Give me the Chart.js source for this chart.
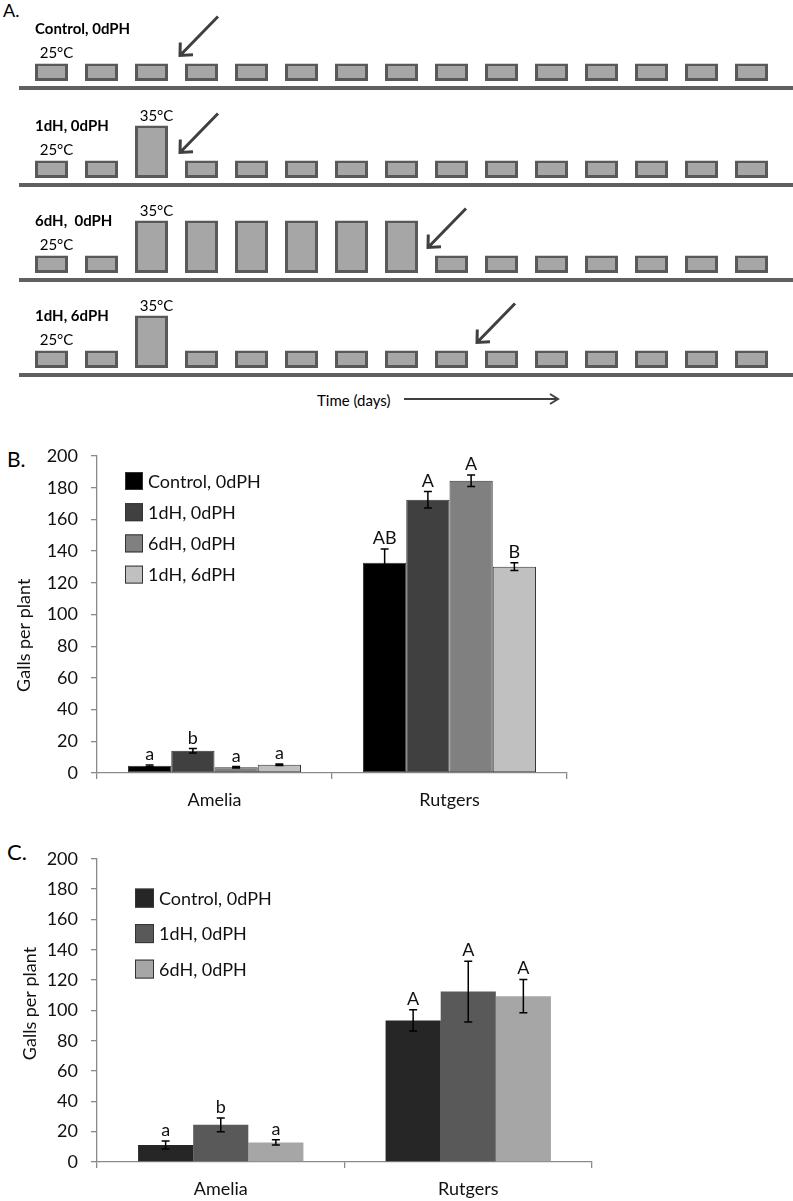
<!DOCTYPE html>
<html>
<head>
<meta charset="utf-8">
<script src="https://cdn.jsdelivr.net/npm/chart.js@4.4.0/dist/chart.umd.min.js"></script>
<style>
    html, body { margin: 0; padding: 0; background: #fff; }
    body { width: 793px; height: 1201px; position: relative; overflow: hidden; font-family: Lato, sans-serif; color: #000; }
    .panel { position: absolute; left: 0; width: 793px; }
    .tag { position: absolute; line-height: 1; }
    .note { position: absolute; font-size: 15px; line-height: 1; }
</style>
</head>
<body>
<div class="tag" style="left:3px; top:1px; font-size:18px;">A.</div>
<div class="panel" style="top:3px; height:91px;"><canvas id="row0"></canvas></div>
<div class="panel" style="top:100px; height:91px;"><canvas id="row1"></canvas></div>
<div class="panel" style="top:195px; height:91px;"><canvas id="row2"></canvas></div>
<div class="panel" style="top:290px; height:91px;"><canvas id="row3"></canvas></div>
<div class="note" style="left:317px; top:393px;">Time (days)</div>
<svg style="position:absolute; left:0; top:380px;" width="793" height="40">
    <path d="M404 19 H558 M550 14 L558 19 L550 24" stroke="#404040" stroke-width="2" fill="none"/>
</svg>

<div class="tag" style="left:7px; top:448px; font-size:21px;">B.</div>
<div class="panel" style="top:430px; height:400px;"><canvas id="chartB"></canvas></div>

<div class="tag" style="left:7px; top:841px; font-size:22px;">C.</div>
<div class="panel" style="top:835px; height:366px;"><canvas id="chartC"></canvas></div>

<script>
    // panel A: temperature per day for each treatment row
    const days = [1, 2, 3, 4, 5, 6, 7, 8, 9, 10, 11, 12, 13, 14, 15];
    const rowNames = ['Control, 0dPH', '1dH, 0dPH', '6dH,  0dPH', '1dH, 6dPH'];
    const tempsControl = [25, 25, 25, 25, 25, 25, 25, 25, 25, 25, 25, 25, 25, 25, 25];
    const temps1dH = [25, 25, 35, 25, 25, 25, 25, 25, 25, 25, 25, 25, 25, 25, 25];
    const temps6dH = [25, 25, 35, 35, 35, 35, 35, 35, 25, 25, 25, 25, 25, 25, 25];
    const temps1dH6dPH = [25, 25, 35, 25, 25, 25, 25, 25, 25, 25, 25, 25, 25, 25, 25];
    const arrowDays = [3.57, 3.57, 8.53, 9.51];

    // panels B and C
    const groups = ['Amelia', 'Rutgers'];
    const seriesB = ['Control, 0dPH', '1dH, 0dPH', '6dH, 0dPH', '1dH, 6dPH'];
    const controlB = [4.5, 132.7];
    const heat1B = [14, 172.4];
    const heat6B = [3.6, 184.4];
    const heat1post6B = [5.2, 130.2];
    const errControlB = [0.5, 8.7];
    const errHeat1B = [1.4, 5.2];
    const errHeat6B = [0.5, 3.6];
    const errHeat1post6B = [0.5, 2.4];
    const lettersB = [['a', 'AB'], ['b', 'A'], ['a', 'A'], ['a', 'B']];

    const seriesC = ['Control, 0dPH', '1dH, 0dPH', '6dH, 0dPH'];
    const controlC = [11.2, 93.4];
    const heat1C = [24.5, 112.4];
    const heat6C = [12.9, 109.4];
    const errControlC = [2.6, 7];
    const errHeat1C = [4.5, 20];
    const errHeat6C = [1.7, 11];
    const lettersC = [['a', 'A'], ['b', 'A'], ['a', 'A']];

    const yTicks = [0, 20, 40, 60, 80, 100, 120, 140, 160, 180, 200];

    Chart.defaults.font.family = 'Lato, sans-serif';
    Chart.defaults.animation = false;

    const axisGrey = '#8a8a8a';

    const rowNotes = {
        id: 'rowNotes',
        afterDatasetsDraw(chart, args, o) {
            const { ctx } = chart;
            const x = chart.scales.x;
            const y = chart.scales.y;
            const bars = chart.getDatasetMeta(0).data;
            const first = bars[0];
            ctx.save();
            ctx.fillStyle = '#000';
            ctx.textBaseline = 'middle';
            ctx.font = 'bold 15px Lato';
            ctx.textAlign = 'left';
            ctx.fillText(o.name, first.x - first.width / 2, y.getPixelForValue(34.9));
            ctx.font = '15px Lato';
            ctx.textAlign = 'center';
            ctx.fillText('25°C', first.x + 5, y.getPixelForValue(28));
            const hot = o.temps.indexOf(35);
            if (hot >= 0) ctx.fillText('35°C', bars[hot].x + 5, y.getPixelForValue(37.7));

            const tx = x.getPixelForValue(o.arrow);
            const ty = y.getPixelForValue(27.3);
            const ang = Math.atan2(-39, 38);
            ctx.strokeStyle = '#404040';
            ctx.lineWidth = 3;
            ctx.miterLimit = 4;
            ctx.beginPath();
            ctx.moveTo(tx + 38, ty - 39);
            ctx.lineTo(tx, ty);
            ctx.moveTo(tx + 13 * Math.cos(ang - 0.75), ty + 13 * Math.sin(ang - 0.75));
            ctx.lineTo(tx, ty);
            ctx.lineTo(tx + 13 * Math.cos(ang + 0.75), ty + 13 * Math.sin(ang + 0.75));
            ctx.stroke();
            ctx.restore();
        }
    };

    const rowChart = (id, name, temps, arrow) => new Chart(document.getElementById(id), {
        type: 'bar',
        data: {
            datasets: [{
                data: days.map((d, k) => ({ x: d, y: [20, temps[k]] })),
                backgroundColor: '#a6a6a6',
                borderColor: '#595959',
                borderWidth: 3,
                borderSkipped: false,
                barPercentage: 0.66,
                categoryPercentage: 1
            }]
        },
        options: {
            responsive: true,
            maintainAspectRatio: false,
            layout: { padding: { left: 21, right: 0, top: 8, bottom: 6 } },
            plugins: {
                legend: { display: false },
                tooltip: { enabled: false },
                rowNotes: { name, temps, arrow }
            },
            scales: {
                x: {
                    type: 'linear',
                    offset: false,
                    min: 0.39,
                    max: 15.83,
                    grid: { display: false, drawTicks: false },
                    ticks: { display: false },
                    border: { display: true, color: '#606060', width: 4 },
                    afterFit: (s) => { s.height = 0; }
                },
                y: { display: false, min: 18, max: 40 }
            }
        },
        plugins: [rowNotes]
    });

    rowChart('row0', rowNames[0], tempsControl, arrowDays[0]);
    rowChart('row1', rowNames[1], temps1dH, arrowDays[1]);
    rowChart('row2', rowNames[2], temps6dH, arrowDays[2]);
    rowChart('row3', rowNames[3], temps1dH6dPH, arrowDays[3]);

    const gallsExtras = {
        id: 'gallsExtras',
        afterDatasetsDraw(chart, args, o) {
            const { ctx, chartArea } = chart;
            const y = chart.scales.y;
            ctx.save();
            chart.data.datasets.forEach((ds, i) => {
                chart.getDatasetMeta(i).data.forEach((bar, j) => {
                    const v = ds.data[j];
                    const e = o.errors[i][j];
                    const top = y.getPixelForValue(v + e);
                    const bot = y.getPixelForValue(v - e);
                    ctx.strokeStyle = '#000';
                    ctx.lineWidth = 1.5;
                    ctx.beginPath();
                    ctx.moveTo(bar.x, top);
                    ctx.lineTo(bar.x, bot);
                    ctx.moveTo(bar.x - 4, top);
                    ctx.lineTo(bar.x + 4, top);
                    ctx.moveTo(bar.x - 4, bot);
                    ctx.lineTo(bar.x + 4, bot);
                    ctx.stroke();
                    ctx.fillStyle = '#111';
                    ctx.font = '18px Lato';
                    ctx.textAlign = 'center';
                    ctx.textBaseline = 'alphabetic';
                    ctx.fillText(o.letters[i][j], bar.x, top - 5);
                });
            });
            const L = o.legend;
            chart.data.datasets.forEach((ds, i) => {
                const cy = chartArea.top + L.top + i * L.gap;
                const bx = chartArea.left + L.left;
                ctx.fillStyle = ds.backgroundColor;
                ctx.fillRect(bx, cy - L.size / 2, L.size, L.size);
                ctx.strokeStyle = '#333';
                ctx.lineWidth = 1;
                ctx.strokeRect(bx + 0.5, cy - L.size / 2 + 0.5, L.size - 1, L.size - 1);
                ctx.fillStyle = '#111';
                ctx.font = '18px Lato';
                ctx.textAlign = 'left';
                ctx.textBaseline = 'middle';
                ctx.fillText(ds.label, bx + L.size + 5, cy + 1);
            });
            ctx.restore();
        }
    };

    const gallsChart = (id, series, values, errors, letters, colors, o) => new Chart(document.getElementById(id), {
        type: 'bar',
        data: {
            labels: groups,
            datasets: series.map((name, i) => ({
                label: name,
                data: values[i],
                backgroundColor: colors[i],
                borderColor: '#333',
                borderWidth: o.edge,
                borderSkipped: false,
                categoryPercentage: o.groupWidth,
                barPercentage: 1
            }))
        },
        options: {
            responsive: true,
            maintainAspectRatio: false,
            layout: { padding: { left: 5, right: o.right, top: o.top, bottom: 0 } },
            plugins: {
                legend: { display: false },
                tooltip: { enabled: false },
                gallsExtras: { errors, letters, legend: o.legend }
            },
            scales: {
                x: {
                    offset: true,
                    grid: { offset: true, drawOnChartArea: false, tickLength: 6, color: axisGrey, lineWidth: 1.3 },
                    border: { color: axisGrey, width: 1.3 },
                    ticks: { color: '#111', font: { size: 18 }, padding: 10 },
                    afterFit: (s) => { s.height = o.xHeight; }
                },
                y: {
                    min: 0,
                    max: 200,
                    afterBuildTicks: (s) => { s.ticks = yTicks.map((v) => ({ value: v })); },
                    ticks: { color: '#111', font: { size: 18 }, padding: 13 },
                    grid: { drawOnChartArea: false, tickLength: 6, color: axisGrey, lineWidth: 1.3 },
                    border: { color: axisGrey, width: 1.3 },
                    // padded with spaces so the rotated title sits where the original one does
                    title: { display: true, text: o.title, color: '#111', font: { size: 18 }, padding: { top: o.titlePad, bottom: 0 } },
                    afterFit: (s) => { s.width = 92; }
                }
            }
        },
        plugins: [gallsExtras]
    });

    gallsChart('chartB', seriesB,
        [controlB, heat1B, heat6B, heat1post6B],
        [errControlB, errHeat1B, errHeat6B, errHeat1post6B],
        lettersB,
        ['#000000', '#404040', '#808080', '#c0c0c0'],
        { edge: 1, groupWidth: 0.736, right: 226, top: 26, xHeight: 57, titlePad: 8,
          title: 'Galls per plant         ',
          legend: { left: 28, top: 25, gap: 31.2, size: 18 } });

    gallsChart('chartC', seriesC,
        [controlC, heat1C, heat6C],
        [errControlC, errHeat1C, errHeat6C],
        lettersC,
        ['#262626', '#595959', '#a6a6a6'],
        { edge: 0, groupWidth: 0.668, right: 201, top: 18, xHeight: 39, titlePad: 14,
          title: '   Galls per plant',
          legend: { left: 38, top: 39.3, gap: 35.5, size: 19 } });
</script>
</body>
</html>
